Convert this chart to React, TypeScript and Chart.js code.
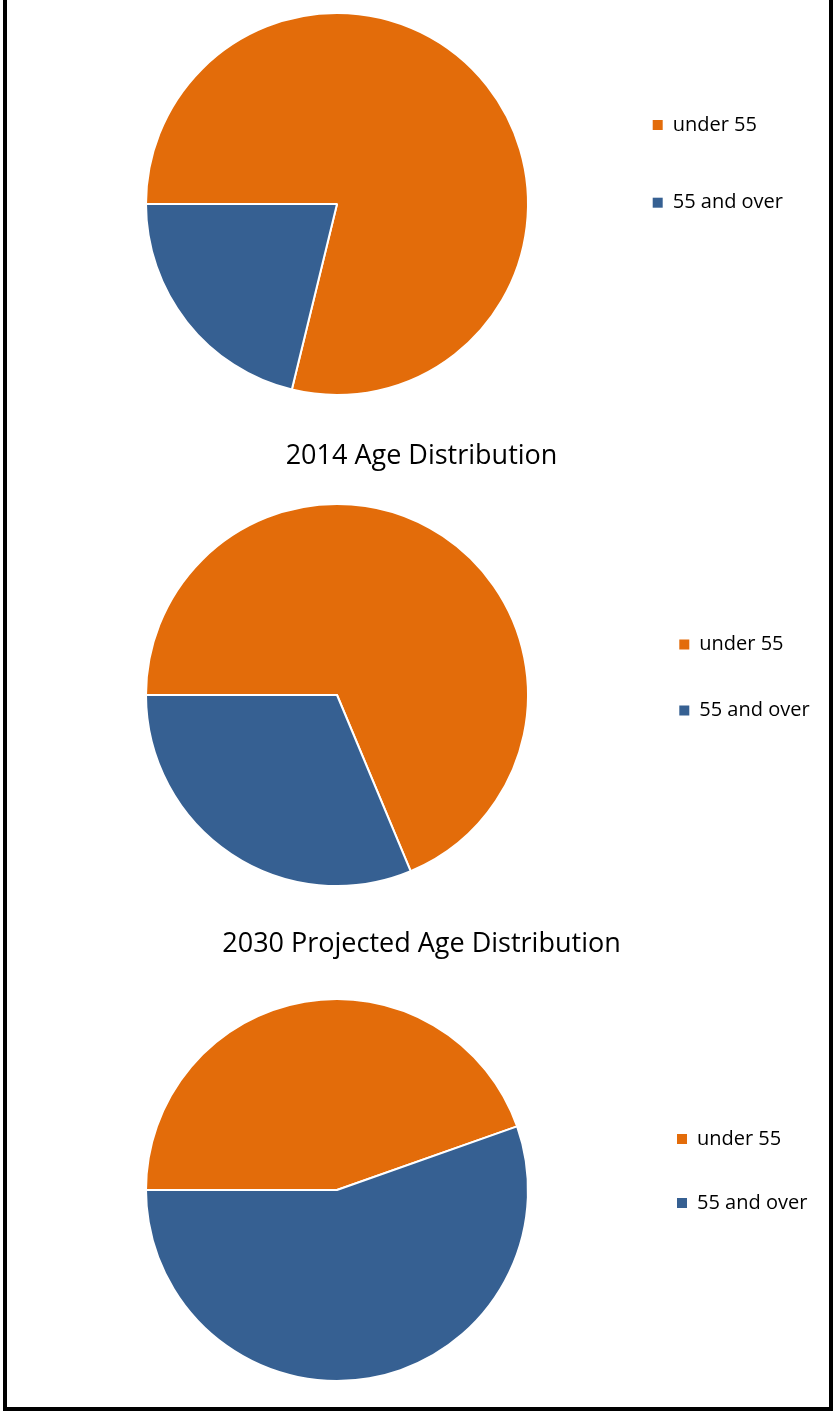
import React, { useEffect, useRef } from 'react';
import { Chart, registerables } from 'chart.js';

Chart.register(...registerables);

// ---- data ----
const categories = ['under 55', '55 and over'];
const chartTitles = ['', '2014 Age Distribution', '2030 Projected Age Distribution'];
const pie1Values = [78.8, 21.2];
const pie2Values = [68.7, 31.3];
const pie3Values = [44.6, 55.4];
const sliceColors = ['#E36C0A', '#366092'];

// ---- styling / layout ----
const FONT = "'Open Sans', 'Liberation Sans', sans-serif";
const LEGEND_SIZE = 20;
const TITLE_SIZE = 27;
const TITLE_CENTER_X = 414.5;
const BOX = 10;
const W = 822;

type PanelSpec = {
  top: number;
  height: number;
  padLeft: number;
  padTop: number;
  padBottom: number;
  titlePadTop: number;
  titlePadBottom: number;
  legendPad: number;
  legendOffset: number;
  markerX: number;
};

const panels: PanelSpec[] = [
  { top: 0, height: 425, padLeft: 72, padTop: 12, padBottom: 29, titlePadTop: 0, titlePadBottom: 0, legendPad: 57.7, legendOffset: 45.3, markerX: 645.7 },
  { top: 425, height: 495, padLeft: 33.7, padTop: 0, padBottom: 33, titlePadTop: 14.8, titlePadBottom: 30.8, legendPad: 46, legendOffset: 85.5, markerX: 672.3 },
  { top: 920, height: 487, padLeft: 34, padTop: 0, padBottom: 25, titlePadTop: 7.8, titlePadBottom: 37.8, legendPad: 44, legendOffset: 87, markerX: 670 },
];

// centre the title on the whole panel rather than between the padding
const centerTitlePlugin = {
  id: 'centerTitle',
  afterLayout(chart: any) {
    const t = chart.titleBlock;
    if (!t) return;
    const w = t.right - t.left;
    t.left = TITLE_CENTER_X - w / 2;
    t.right = TITLE_CENTER_X + w / 2;
  },
};

function PiePanel({ spec, values, title }: { spec: PanelSpec; values: number[]; title: string }) {
  const ref = useRef<HTMLCanvasElement>(null);
  useEffect(() => {
    const canvas = ref.current!;
    const ctx = canvas.getContext('2d')!;
    ctx.font = `${LEGEND_SIZE}px ${FONT}`;
    const textW = Math.max(...categories.map((c) => ctx.measureText(c).width));
    const itemW = BOX + LEGEND_SIZE / 2 + textW;
    // Chart.js adds 10px to the width of a vertical legend
    const padRight = W - spec.markerX - itemW - 10;

    const chart = new Chart(canvas, {
      type: 'pie',
      data: {
        labels: categories,
        datasets: [
          {
            data: values,
            backgroundColor: sliceColors,
            borderColor: '#ffffff',
            borderWidth: 2,
          },
        ],
      },
      options: {
        responsive: false,
        animation: false,
        events: [],
        rotation: 270,
        layout: {
          padding: { left: spec.padLeft, right: padRight, top: spec.padTop, bottom: spec.padBottom },
        },
        plugins: {
          tooltip: { enabled: false },
          title: {
            display: !!title,
            text: title,
            color: '#000000',
            font: { family: FONT, size: TITLE_SIZE, weight: 'normal', lineHeight: 1.2 },
            padding: { top: spec.titlePadTop, bottom: spec.titlePadBottom },
          },
          legend: {
            position: 'right',
            align: 'start',
            fullSize: false,
            title: {
              display: true,
              text: '',
              font: { size: 1, lineHeight: 1 },
              padding: { top: spec.legendOffset - 1, bottom: 0 },
            },
            labels: {
              boxWidth: BOX,
              boxHeight: BOX,
              color: '#000000',
              padding: spec.legendPad,
              font: { family: FONT, size: LEGEND_SIZE },
              generateLabels: (ch: any) =>
                (Chart as any).overrides.pie.plugins.legend.labels
                  .generateLabels(ch)
                  .map((l: any) => ({ ...l, lineWidth: 0 })),
            },
          },
        },
      } as any,
      plugins: [centerTitlePlugin as any],
    });
    return () => chart.destroy();
  }, []);
  return (
    <canvas
      ref={ref}
      width={W}
      height={spec.height}
      style={{ position: 'absolute', left: 0, top: spec.top, width: W, height: spec.height, display: 'block' }}
    />
  );
}

export default function App() {
  const allValues = [pie1Values, pie2Values, pie3Values];
  return (
    <div
      style={{
        position: 'absolute',
        left: 3,
        top: 0,
        width: 830,
        height: 1411,
        boxSizing: 'border-box',
        borderLeft: '4px solid #000',
        borderRight: '4px solid #000',
        borderBottom: '4px solid #000',
        background: '#ffffff',
      }}
    >
      <div style={{ position: 'relative', width: W, height: 1407 }}>
        {panels.map((p, i) => (
          <PiePanel key={i} spec={p} values={allValues[i]} title={chartTitles[i]} />
        ))}
      </div>
    </div>
  );
}
